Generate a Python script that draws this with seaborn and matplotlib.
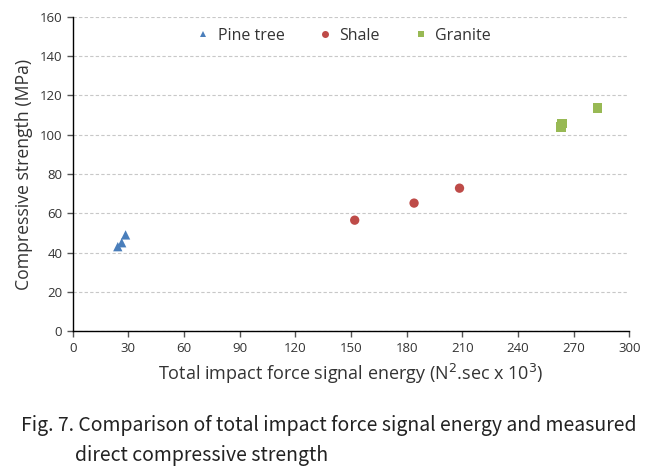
import pandas as pd
import seaborn as sns
import matplotlib.pyplot as plt

# values
pine_x = [24.3, 26.4, 28.5]
pine_y = [43.0, 45.0, 49.0]
shale_x = [152.0, 184.0, 208.5]
shale_y = [56.5, 65.2, 72.8]
granite_x = [263.2, 263.8, 283.0]
granite_y = [104.0, 105.8, 113.6]

df = pd.DataFrame({
    'energy': pine_x + shale_x + granite_x,
    'strength': pine_y + shale_y + granite_y,
    'rock': ['Pine tree'] * 3 + ['Shale'] * 3 + ['Granite'] * 3,
})

sns.set_style('white')
plt.rcParams['font.family'] = ['Open Sans', 'DejaVu Sans']

fig = plt.figure(figsize=(6.61, 4.71), dpi=100)
ax = fig.add_axes([0.110, 0.297, 0.842, 0.667])

palette = {'Pine tree': '#4a7ebb', 'Shale': '#be4b48', 'Granite': '#98b954'}
markers = {'Pine tree': '^', 'Shale': 'o', 'Granite': 's'}
sns.scatterplot(data=df, x='energy', y='strength', hue='rock', style='rock',
                palette=palette, markers=markers, s=45, linewidth=0, ax=ax)

ax.set_xlim(0, 300)
ax.set_ylim(0, 160)
ax.set_xticks(range(0, 301, 30))
ax.set_yticks(range(0, 161, 20))
ax.yaxis.grid(True, color='#c8c8c8', linestyle=(0, (3, 2)), linewidth=0.8)
ax.set_axisbelow(True)
for side in ['top', 'right']:
    ax.spines[side].set_visible(False)
for side in ['left', 'bottom']:
    ax.spines[side].set_color('black')
    ax.spines[side].set_linewidth(1.0)
ax.tick_params(axis='both', direction='out', length=4, width=1,
               labelsize=9.5, left=True, bottom=True)
ax.tick_params(axis='both', colors='#555555', labelcolor='#333333')

ax.set_xlabel('Total impact force signal energy (N$^2$.sec x 10$^3$)', fontsize=13,
              color='#333333', labelpad=5)
ax.set_ylabel('Compressive strength (MPa)', fontsize=12.7, color='#333333', labelpad=5)

leg = ax.legend(loc='upper left', bbox_to_anchor=(0.18, 1.012), ncol=3, frameon=False,
                fontsize=11.5, handletextpad=-0.1, columnspacing=1.55, markerscale=0.75)
for t in leg.get_texts():
    t.set_color('#333333')

fig.text(0.032, 0.085, 'Fig. 7. Comparison of total impact force signal energy and measured',
         fontsize=14, family=['Noto Sans CJK KR', 'DejaVu Sans'], color='#222222')
fig.text(0.113, 0.022, 'direct compressive strength',
         fontsize=14, family=['Noto Sans CJK KR', 'DejaVu Sans'], color='#222222')

fig.savefig('out.png', dpi=100)
